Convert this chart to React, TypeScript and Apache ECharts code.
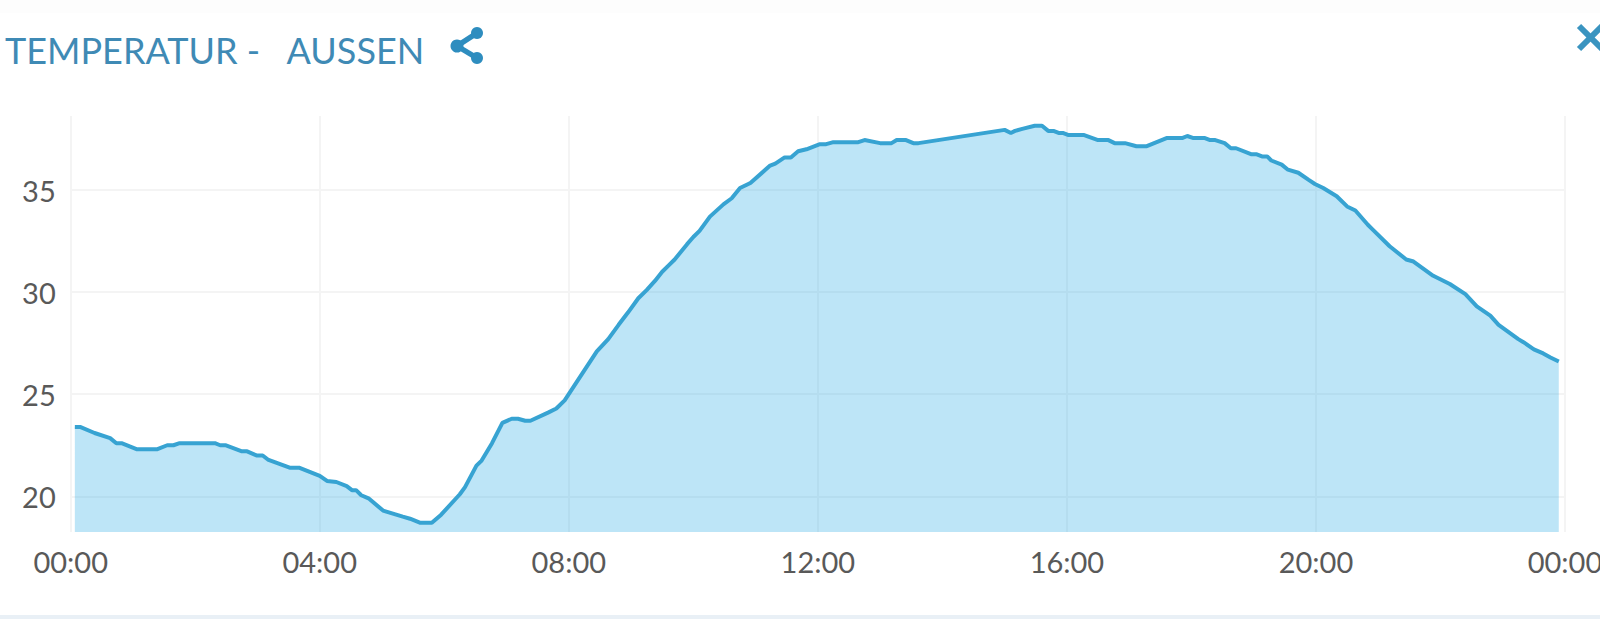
import React, { useEffect, useRef } from "react";
import * as echarts from "echarts";

const titleText = "TEMPERATUR -   AUSSEN";
const minutes = [4,9,23,38,44,49,64,83,93,99,105,139,144,149,165,170,179,185,190,211,220,240,247,256,266,271,275,280,287,301,320,327,337,348,357,375,380,391,396,406,416,425,431,438,443,460,468,476,507,518,528,537,547,555,563,570,576,582,594,600,606,616,629,637,645,655,674,679,688,694,701,709,722,728,735,759,765,780,791,796,805,812,817,900,906,910,917,929,936,942,947,952,956,961,976,990,1000,1006,1016,1027,1037,1056,1071,1076,1082,1093,1098,1103,1112,1118,1123,1138,1143,1148,1153,1157,1167,1173,1183,1193,1199,1207,1220,1230,1238,1250,1254,1271,1287,1294,1313,1329,1344,1355,1368,1376,1395,1400,1410,1419,1426,1434];
const temps = [23.4,23.4,23.1,22.85,22.6,22.6,22.3,22.3,22.5,22.5,22.6,22.6,22.5,22.5,22.2,22.2,22,22,21.8,21.4,21.4,21,20.75,20.7,20.5,20.3,20.3,20.05,19.9,19.3,19,18.9,18.7,18.7,19.1,20.1,20.45,21.5,21.75,22.6,23.6,23.8,23.8,23.7,23.7,24.1,24.3,24.7,27.1,27.7,28.4,29,29.7,30.1,30.55,31,31.3,31.6,32.35,32.7,33,33.7,34.3,34.6,35.1,35.35,36.2,36.3,36.6,36.6,36.9,37,37.25,37.25,37.35,37.35,37.45,37.3,37.3,37.45,37.45,37.3,37.3,37.95,37.8,37.9,38,38.15,38.15,37.9,37.9,37.8,37.8,37.7,37.7,37.45,37.45,37.3,37.3,37.15,37.15,37.55,37.55,37.65,37.55,37.55,37.45,37.45,37.3,37.05,37.05,36.75,36.75,36.65,36.65,36.45,36.25,36,35.85,35.5,35.3,35.1,34.7,34.2,34,33.3,33.1,32.25,31.6,31.5,30.8,30.4,29.9,29.3,28.85,28.4,27.7,27.55,27.2,27,26.8,26.6];
const xTickLabels = ["00:00", "04:00", "08:00", "12:00", "16:00", "20:00", "00:00"];

const labelFont = "Lato";
const labelColor = "#595959";

export default function App() {
  const ref = useRef<HTMLDivElement>(null);
  useEffect(() => {
    const chart = echarts.init(ref.current!, undefined, { renderer: "svg" });
    chart.setOption({
      animation: false,
      backgroundColor: "#ffffff",
      grid: { left: 70.7, right: 35, top: 116, bottom: 87, containLabel: false, outerBoundsMode: "none" },
      xAxis: {
        type: "value",
        min: 0,
        max: 1440,
        interval: 240,
        axisLine: { show: false },
        axisTick: { show: false },
        axisLabel: {
          color: labelColor,
          fontFamily: labelFont,
          fontSize: 29,
          margin: 15,
          formatter: (v: number) => xTickLabels[Math.round(v / 240)],
        },
        splitLine: { show: true, lineStyle: { color: "#f4f4f4", width: 2 } },
      },
      yAxis: {
        type: "value",
        min: 18.25,
        max: 38.63,
        splitNumber: 4,
        axisLine: { show: false },
        axisTick: { show: false },
        axisLabel: {
          color: labelColor,
          fontFamily: labelFont,
          fontSize: 29,
          margin: 15,
          showMinLabel: false,
          showMaxLabel: false,
        },
        splitLine: { show: true, showMinLine: false, showMaxLine: false, lineStyle: { color: "#f4f4f4", width: 2 } },
      },
      series: [
        {
          type: "line",
          data: minutes.map((m, i) => [m, temps[i]]),
          showSymbol: false,
          smooth: false,
          lineStyle: { color: "#37a3d2", width: 4 },
          areaStyle: { color: "rgb(35,168,228)", opacity: 0.3, origin: "start" },
        },
      ],
      graphic: [
        { type: "rect", shape: { x: 0, y: 0, width: 1600, height: 13 }, style: { fill: "#fdfdfd" } },
        { type: "rect", shape: { x: 0, y: 615, width: 1600, height: 4 }, style: { fill: "#e9f0f6" } },
        {
          type: "text",
          x: 5,
          y: 50,
          style: { text: titleText, fill: "#3f8ab5", font: "36px Lato", textVerticalAlign: "middle" },
        },
        { type: "line", shape: { x1: 477, y1: 33, x2: 457, y2: 46 }, style: { stroke: "#2e8dbf", lineWidth: 5.5 } },
        { type: "line", shape: { x1: 457, y1: 46, x2: 477, y2: 58 }, style: { stroke: "#2e8dbf", lineWidth: 5.5 } },
        { type: "circle", shape: { cx: 477, cy: 33, r: 6 }, style: { fill: "#2e8dbf" } },
        { type: "circle", shape: { cx: 457, cy: 46, r: 6.5 }, style: { fill: "#2e8dbf" } },
        { type: "circle", shape: { cx: 477, cy: 58, r: 6 }, style: { fill: "#2e8dbf" } },
        { type: "line", shape: { x1: 1579, y1: 26, x2: 1602, y2: 49 }, style: { stroke: "#3a94c0", lineWidth: 6 } },
        { type: "line", shape: { x1: 1579, y1: 49, x2: 1602, y2: 26 }, style: { stroke: "#3a94c0", lineWidth: 6 } },
      ],
    });
    return () => chart.dispose();
  }, []);
  return <div ref={ref} style={{ position: "fixed", left: 0, top: 0, width: 1600, height: 619 }} />;
}
